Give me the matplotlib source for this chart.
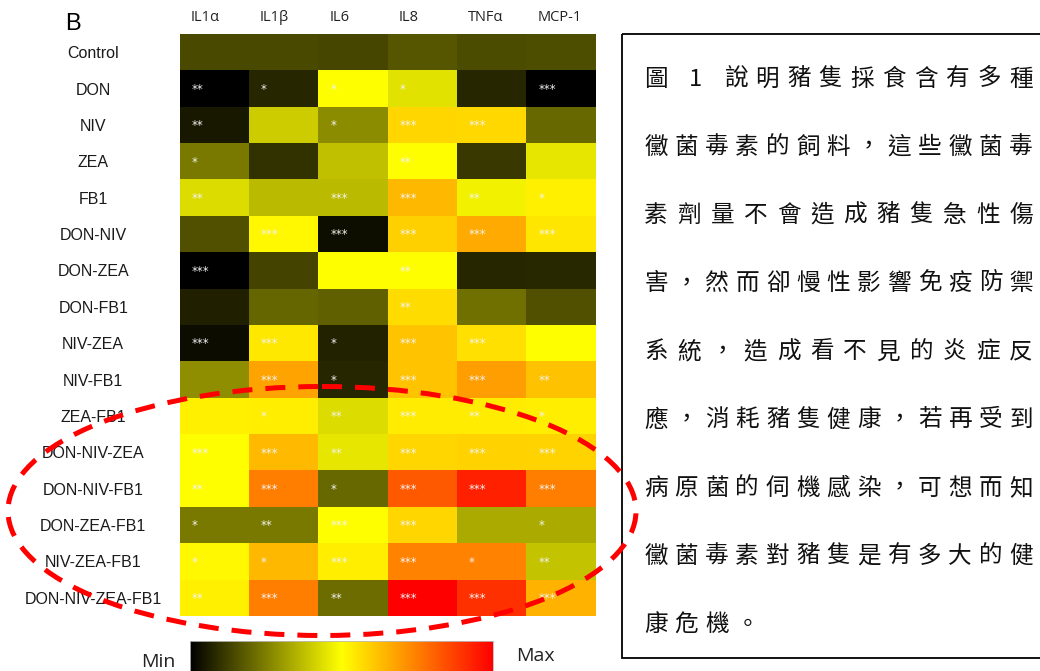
import matplotlib
matplotlib.use("Agg")
import matplotlib.pyplot as plt
import numpy as np
from matplotlib.colors import LinearSegmentedColormap
from matplotlib.patches import Ellipse, Rectangle

treatments = ["Control", "DON", "NIV", "ZEA", "FB1", "DON-NIV", "DON-ZEA",
              "DON-FB1", "NIV-ZEA", "NIV-FB1", "ZEA-FB1", "DON-NIV-ZEA",
              "DON-NIV-FB1", "DON-ZEA-FB1", "NIV-ZEA-FB1", "DON-NIV-ZEA-FB1"]
cytokines = ["IL1α", "IL1β", "IL6", "IL8", "TNFα", "MCP-1"]

# relative expression, 0 = min, 1 = max
levels = [
    [0.145, 0.145, 0.14, 0.17, 0.15, 0.155],
    [0.0, 0.075, 0.5, 0.445, 0.078, 0.0],
    [0.047, 0.4, 0.275, 0.582, 0.576, 0.204],
    [0.24, 0.1, 0.375, 0.5, 0.112, 0.45],
    [0.43, 0.365, 0.365, 0.64, 0.475, 0.53],
    [0.16, 0.515, 0.03, 0.59, 0.667, 0.55],
    [0.0, 0.135, 0.5, 0.5, 0.075, 0.082],
    [0.065, 0.2, 0.19, 0.57, 0.22, 0.16],
    [0.024, 0.545, 0.067, 0.616, 0.56, 0.5],
    [0.28, 0.676, 0.078, 0.614, 0.69, 0.62],
    [0.53, 0.533, 0.433, 0.537, 0.537, 0.533],
    [0.5, 0.635, 0.45, 0.58, 0.588, 0.584],
    [0.5, 0.753, 0.204, 0.824, 0.937, 0.75],
    [0.241, 0.241, 0.5, 0.58, 0.335, 0.335],
    [0.515, 0.64, 0.533, 0.74, 0.74, 0.384],
    [0.53, 0.75, 0.212, 1.0, 0.906, 0.65],
]

stars = [
    ["", "", "", "", "", ""],
    ["**", "*", "*", "*", "", "***"],
    ["**", "", "*", "***", "***", ""],
    ["*", "", "", "**", "", ""],
    ["**", "", "***", "***", "**", "*"],
    ["", "***", "***", "***", "***", "***"],
    ["***", "", "", "**", "", ""],
    ["", "", "", "**", "", ""],
    ["***", "***", "*", "***", "***", ""],
    ["", "***", "*", "***", "***", "**"],
    ["", "*", "**", "***", "**", "*"],
    ["***", "***", "**", "***", "***", "***"],
    ["**", "***", "*", "***", "***", "***"],
    ["*", "**", "***", "***", "", "*"],
    ["*", "*", "***", "***", "*", "**"],
    ["**", "***", "**", "***", "***", "***"],
]

caption = ["圖 1 說明豬隻採食含有多種",
           "黴菌毒素的飼料，這些黴菌毒",
           "素劑量不會造成豬隻急性傷",
           "害，然而卻慢性影響免疫防禦",
           "系統，造成看不見的炎症反",
           "應，消耗豬隻健康，若再受到",
           "病原菌的伺機感染，可想而知",
           "黴菌毒素對豬隻是有多大的健",
           "康危機。"]

W, H = 1040, 671
cmap = LinearSegmentedColormap.from_list(
    "bly", [(0.0, "#000000"), (0.5, "#ffff00"), (1.0, "#ff0000")])

fig = plt.figure(figsize=(W / 100, H / 100), dpi=100)


def fbox(x0, y0, x1, y1):
    # pixel box (top-left origin) -> figure fraction
    return [x0 / W, 1 - y1 / H, (x1 - x0) / W, (y1 - y0) / H]


# heatmap
ax = fig.add_axes(fbox(180, 34, 596, 616))
data = np.array(levels)
ax.imshow(data, cmap=cmap, vmin=0, vmax=1, aspect="auto", interpolation="nearest")
for r in range(len(treatments)):
    for c in range(len(cytokines)):
        if stars[r][c]:
            ax.text(c - 0.5 + 0.17, r + 0.02, stars[r][c], color="#f2f2f2",
                    fontsize=8.5, ha="left", va="center", family="DejaVu Sans")

ax.set_yticks(range(len(treatments)))
ax.set_yticklabels(treatments, fontsize=11.5, family="Liberation Sans",
                   color="#1a1a1a", ha="center")
ax.tick_params(axis="y", length=0, pad=62.5)
ax.set_xticks([])
for c, name in enumerate(cytokines):
    ax.text(c - 0.5 + 0.155, -0.5 - 0.45, name, fontsize=10.5,
            family=["Open Sans", "DejaVu Sans"], color="#222222",
            ha="left", va="center")
for s in ax.spines.values():
    s.set_visible(False)

# colour bar (runs off the bottom edge)
cax = fig.add_axes(fbox(190, 641, 493, 690))
cax.imshow(np.linspace(0, 1, 256)[None, :], cmap=cmap, aspect="auto",
           extent=[0, 1, 0, 1])
cax.set_xticks([])
cax.set_yticks([])
for s in cax.spines.values():
    s.set_color("#bbbbbb")
    s.set_linewidth(0.6)

# overlay in pixel coordinates
ov = fig.add_axes([0, 0, 1, 1], zorder=5)
ov.set_xlim(0, W)
ov.set_ylim(H, 0)
ov.axis("off")
ov.patch.set_alpha(0)

ov.text(73, 24, "B", fontsize=17, family="Liberation Sans", ha="center",
        va="center", color="black")
ov.text(158, 662, "Min", fontsize=14, family="Open Sans", ha="center",
        va="center", color="#222222")
ov.text(535, 656, "Max", fontsize=14, family="Open Sans", ha="center",
        va="center", color="#222222")

# caption box
ov.add_patch(Rectangle((622, 34), 440, 624, fill=False, edgecolor="black",
                       linewidth=1.3))


def unit_width(ch):
    if ord(ch) < 128:
        return 0.5
    return 1.0


x_first, x_last = 656, 1021
for i, line in enumerate(caption):
    widths = [unit_width(ch) for ch in line]
    span = sum(widths) - widths[0] / 2 - widths[-1] / 2
    unit = (x_last - x_first) / span if i < len(caption) - 1 else 30.5
    y = 79 + 68.2 * i
    x = x_first
    for j, ch in enumerate(line):
        if ch != " ":
            ov.text(x, y, ch, fontsize=17, family=["Noto Sans CJK TC", "DejaVu Sans"],
                    ha="center", va="center", color="#111111")
        if j + 1 < len(line):
            x += (widths[j] + widths[j + 1]) / 2 * unit

# red dashed ellipse
ov.add_patch(Ellipse((322, 511), 628, 249, fill=False, edgecolor="#ff0000",
                     linewidth=3.6, linestyle=(0, (4, 2.6))))

fig.savefig("out.png", dpi=100)
